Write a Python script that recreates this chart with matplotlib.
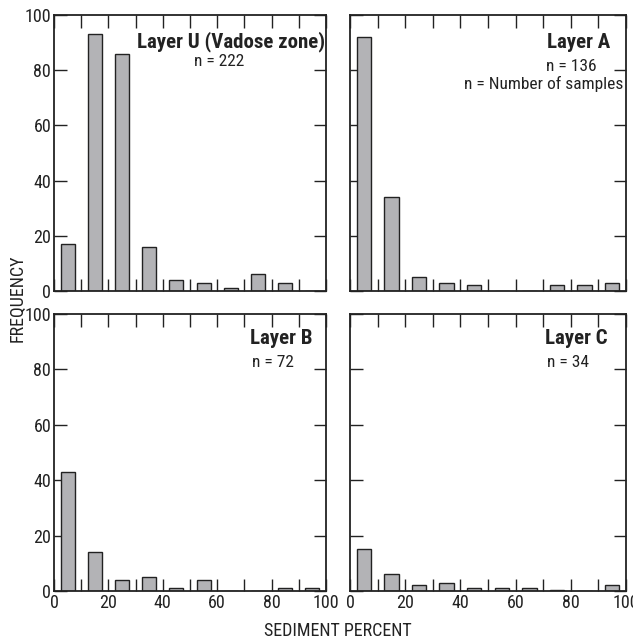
import matplotlib
matplotlib.use('Agg')
import matplotlib.pyplot as plt
import numpy as np

plt.rcParams['font.family'] = ['Liberation Sans Narrow', 'Roboto Condensed', 'Roboto', 'DejaVu Sans']

# bin centres (sediment percent) and frequency for each layer
centers = [5, 15, 25, 35, 45, 55, 65, 75, 85, 95]
layer_u = [17, 93, 86, 16, 4, 3, 1, 6, 3, 0]
layer_a = [92, 34, 5, 3, 2, 0, 0, 2, 2, 3]
layer_b = [43, 14, 4, 5, 1, 4, 0, 0, 1, 1]
layer_c = [15, 6, 2, 3, 1, 1, 1, 0.5, 0, 2]

titles = ['Layer U (Vadose zone)', 'Layer A', 'Layer B', 'Layer C']
counts = ['n = 222', 'n = 136', 'n = 72', 'n = 34']
series = [layer_u, layer_a, layer_b, layer_c]

ink = '#222222'
W, H = 633, 642
fig = plt.figure(figsize=(W / 100, H / 100), dpi=100)

# panel boxes in pixels: left, top, right, bottom
boxes = [(54, 15, 326, 291), (350, 15, 626, 291),
         (54, 314, 326, 591), (350, 314, 626, 591)]

axes = []
for i, (l, t, r, b) in enumerate(boxes):
    ax = fig.add_axes([l / W, 1 - b / H, (r - l) / W, (b - t) / H])
    ax.bar(centers, series[i], width=5.2, color='#b3b3b6', edgecolor=ink,
           linewidth=1.0, zorder=2)
    ax.set_xlim(0, 100)
    ax.set_ylim(0, 100)
    ax.set_xticks(range(0, 101, 10))
    ax.set_yticks(range(0, 101, 20))
    ax.tick_params(direction='in', length=9, width=1.0, top=True, right=True,
                   labelsize=13, pad=2, colors=ink)
    ax.set_xticklabels([str(v) if v % 20 == 0 else '' for v in range(0, 101, 10)])
    if i < 2:
        ax.tick_params(labelbottom=False)
    if i % 2 == 1:
        ax.tick_params(labelleft=False)
    for s in ax.spines.values():
        s.set_linewidth(1.3)
        s.set_color(ink)
    axes.append(ax)

# panel titles and sample counts
tkw = dict(ha='right', va='baseline', fontsize=15, fontweight='bold', color=ink)
nkw = dict(ha='right', va='baseline', fontsize=12.5, color=ink)
axes[0].text(99.5, 88.1, titles[0], **tkw)
axes[0].text(60.7, 81.6, counts[0], ha='center', va='baseline', fontsize=12.5,
             color=ink)
axes[1].text(94.2, 88.0, titles[1], **tkw)
axes[1].text(89.5, 79.7, counts[1], **nkw)
axes[1].text(98.9, 73.1, 'n = Number of samples', **nkw)
axes[2].text(95.2, 89.2, titles[2], **tkw)
axes[2].text(88.2, 80.7, counts[2], **nkw)
axes[3].text(93.5, 89.2, titles[3], **tkw)
axes[3].text(86.6, 80.7, counts[3], **nkw)

fig.text(18 / W, 1 - 298 / H, 'FREQUENCY', rotation=90, ha='center', va='center',
         fontsize=13, color=ink)
fig.text(338 / W, 1 - 631 / H, 'SEDIMENT PERCENT', ha='center', va='center',
         fontsize=13, color=ink)

fig.savefig('out.png', dpi=100)
